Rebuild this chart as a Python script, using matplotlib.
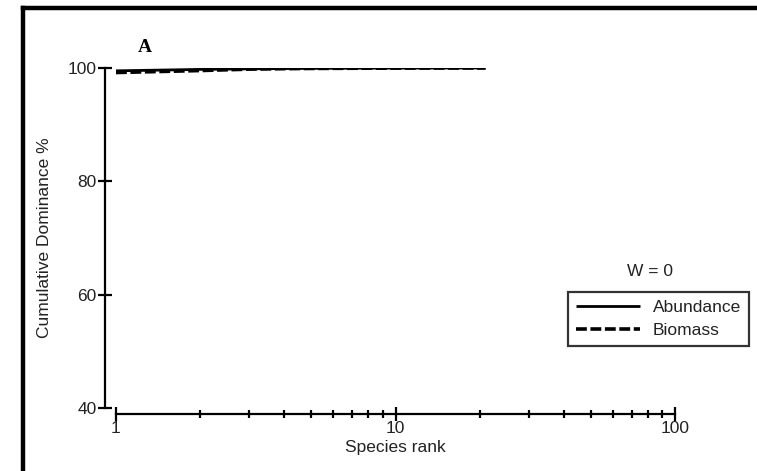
import matplotlib
matplotlib.use("Agg")
import matplotlib.pyplot as plt
from matplotlib.lines import Line2D
from matplotlib.ticker import LogLocator, NullFormatter, FixedLocator, FixedFormatter

plt.rcParams['font.family'] = ['Liberation Sans', 'DejaVu Sans']

# Data
species_rank = [1, 2, 3, 4, 5, 6, 7, 8, 9, 10, 11, 12, 13, 14, 15, 16, 17, 18, 19, 20, 21]
abundance = [99.5, 99.75, 99.85, 99.9, 99.93, 99.95, 99.96, 99.97, 99.975, 99.98,
             99.985, 99.988, 99.99, 99.992, 99.994, 99.996, 99.997, 99.998, 99.999, 99.9995, 100.0]
biomass = [99.2, 99.55, 99.8, 99.88, 99.92, 99.94, 99.955, 99.965, 99.972, 99.98,
           99.984, 99.987, 99.99, 99.992, 99.994, 99.995, 99.997, 99.998, 99.999, 99.9995, 100.0]
y_ticks = [40, 60, 80, 100]
x_ticks = [1, 10, 100]
x_ticklabels = ['1', '10', '100']

FS = 12.5
TXT = '#222222'
W, H = 757, 471
fig = plt.figure(figsize=(W / 100, H / 100), dpi=100)
ax = fig.add_axes([116 / W, (H - 408) / H, (675 - 116) / W, (408 - 68) / H])

ax.plot(species_rank, abundance, color='black', lw=2.0, solid_capstyle='butt', label='Abundance')
ax.plot(species_rank, biomass, color='black', lw=2.6, ls=(0, (3, 1)), label='Biomass')

ax.set_xscale('log')
ax.set_xlim(1, 100)
ax.set_ylim(40, 100)

for s in ['top', 'right']:
    ax.spines[s].set_visible(False)
ax.spines['left'].set_position(('outward', 11 * 0.72))
ax.spines['bottom'].set_position(('outward', 6 * 0.72))
ax.spines['left'].set_linewidth(1.6)
ax.spines['bottom'].set_linewidth(1.6)
ax.spines['left'].set_bounds(40, 100)
ax.spines['bottom'].set_bounds(1, 100)

ax.yaxis.set_major_locator(FixedLocator(y_ticks))
ax.xaxis.set_major_locator(FixedLocator(x_ticks))
ax.xaxis.set_major_formatter(FixedFormatter(x_ticklabels))
ax.xaxis.set_minor_locator(LogLocator(base=10, subs=range(2, 10)))
ax.xaxis.set_minor_formatter(NullFormatter())
ax.tick_params(axis='both', which='major', direction='inout', length=10, width=1.6,
               labelsize=FS, color='black', labelcolor=TXT)
ax.tick_params(axis='x', which='minor', direction='inout', length=6, width=1.6)
ax.tick_params(axis='x', which='major', pad=0)
ax.tick_params(axis='y', which='major', pad=1)

ax.set_xlabel('Species rank', fontsize=FS, color=TXT, labelpad=3)
ax.set_ylabel('Cumulative Dominance %', fontsize=FS, color=TXT, labelpad=11)

fig.text(145 / W, 1 - 47 / H, 'A', fontsize=14, fontweight='bold', family='Liberation Serif',
         ha='center', va='center')
fig.text(650 / W, 1 - 272 / H, 'W = 0', fontsize=FS, color=TXT, ha='center', va='center')

leg = ax.legend(loc='upper left', bbox_to_anchor=(568 / W, 1 - 292 / H), bbox_transform=fig.transFigure,
                fontsize=FS, frameon=True, fancybox=False, handlelength=3.7, borderpad=0.45,
                labelspacing=0.45, handletextpad=0.75, borderaxespad=0)
leg.get_frame().set_edgecolor('black')
leg.get_frame().set_linewidth(1.6)
for t in leg.get_texts():
    t.set_color(TXT)

# figure frame: top and left edges (right/bottom lie outside the image)
fig.lines.append(Line2D([22.5 / W, 22.5 / W], [0, 1 - 7.5 / H], transform=fig.transFigure,
                        color='black', lw=3.2, solid_capstyle='projecting'))
fig.lines.append(Line2D([22.5 / W, 1.0], [1 - 7.5 / H, 1 - 7.5 / H], transform=fig.transFigure,
                        color='black', lw=3.2, solid_capstyle='projecting'))

fig.savefig('out.png', dpi=100)
